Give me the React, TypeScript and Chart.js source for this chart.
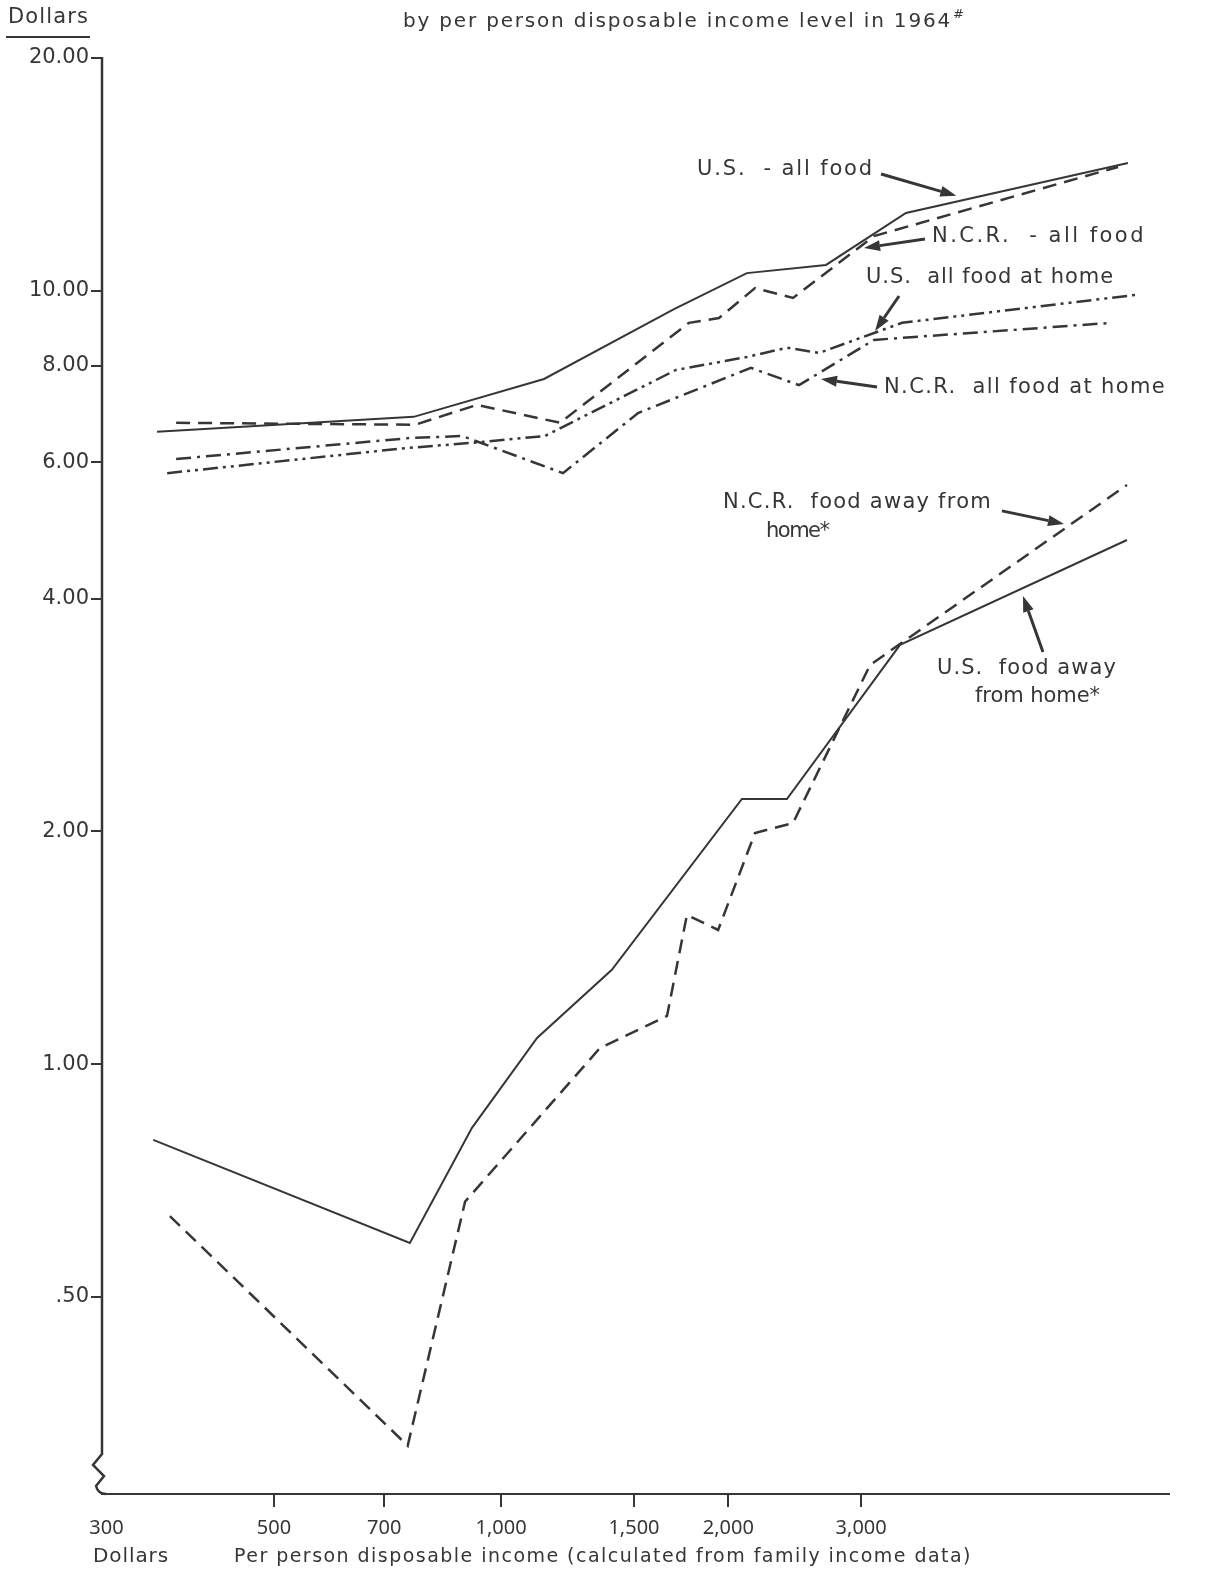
import React, { useEffect, useRef } from "react";
import { Chart, registerables } from "chart.js";

Chart.register(...registerables);

// ---------------- data (per person income in dollars, value in dollars) ----------------
const usAllFoodIncome = [350, 766, 1140, 1695, 2117, 2695, 3440, 6771];
const usAllFood = [6.57, 6.87, 7.69, 9.47, 10.54, 10.8, 12.61, 14.63];

const ncrAllFoodIncome = [371, 769, 929, 1197, 1774, 1944, 2170, 2437, 3120, 6570];
const ncrAllFood = [6.75, 6.71, 7.12, 6.75, 9.09, 9.22, 10.08, 9.79, 11.77, 14.46];

const usHomeIncome = [361, 748, 918, 1143, 1705, 2117, 2392, 2638, 3399, 6938];
const usHome = [5.81, 6.26, 6.36, 6.49, 7.9, 8.21, 8.44, 8.31, 9.09, 9.88];

const ncrHomeIncome = [371, 757, 888, 1208, 1519, 2143, 2482, 3120, 6450];
const ncrHome = [6.06, 6.45, 6.49, 5.81, 6.95, 7.95, 7.55, 8.64, 9.09];

const usAwayIncome = [346, 757, 915, 1116, 1402, 2085, 2392, 3378, 6751];
const usAway = [0.798, 0.587, 0.827, 1.081, 1.324, 2.202, 2.202, 3.484, 4.761];

const ncrAwayIncome = [364, 752, 896, 1352, 1659, 1763, 1939, 2170, 2437, 3083, 6751];
const ncrAway = [0.636, 0.321, 0.664, 1.049, 1.154, 1.559, 1.491, 1.99, 2.05, 3.282, 5.609];

const X_TICKS = [300, 500, 700, 1000, 1500, 2000, 3000];
const X_TICK_LABELS = ["300", "500", "700", "1,000", "1,500", "2,000", "3,000"];
const Y_TICKS = [0.5, 1, 2, 4, 6, 8, 10, 20];
const Y_TICK_LABELS = [".50", "1.00", "2.00", "4.00", "6.00", "8.00", "10.00", "20.00"];

// series labels, anchored in data coordinates (income, dollars)
const LABEL_TEXTS = [
  "U.S.  - all food",
  "N.C.R.  - all food",
  "U.S.  all food at home",
  "N.C.R.  all food at home",
  "N.C.R.  food away from",
  "home*",
  "U.S.  food away",
  "from home*",
];
const LABEL_INCOME = [1818, 3724, 3045, 3217, 1968, 2244, 3781, 4246];
const LABEL_DOLLARS = [14.33, 11.74, 10.39, 7.486, 5.318, 4.877, 3.243, 2.985];

// arrows from label to line, in data coordinates
const ARROW_FROM_INCOME = [3188, 3645, 3368, 3149, 4610, 5225];
const ARROW_FROM_DOLLARS = [14.16, 11.67, 9.846, 7.508, 5.193, 3.412];
const ARROW_TO_INCOME = [4011, 3027, 3130, 2654, 5571, 4916];
const ARROW_TO_DOLLARS = [13.27, 11.36, 8.873, 7.69, 4.995, 4.031];

// ---------------- layout / style ----------------
const W = 1223;
const H = 1579;
const AREA = { left: 102, top: 58, right: 1169, bottom: 1494 };
const X_MIN = 295.9;
const X_MAX = 7675;
const Y_MIN = 0.278;
const Y_MAX = 20;
const INK = "#363636";
const FONT = "'DejaVu Sans', 'Noto Sans', sans-serif";
const TICK_FONT = "'Noto Sans', 'DejaVu Sans', sans-serif";
const LABEL_WIDTHS = [177, 214, 248, 282, 269, 58, 180, 125];

function drawFitted(ctx: CanvasRenderingContext2D, text: string, x: number, y: number, width: number) {
  (ctx as any).letterSpacing = "0px";
  const w0 = ctx.measureText(text).width;
  const n = text.length;
  let sp = n > 1 ? (width - w0) / n : 0;
  sp = Math.max(-1.5, Math.min(5, sp));
  (ctx as any).letterSpacing = `${sp}px`;
  ctx.fillText(text, x, y);
  (ctx as any).letterSpacing = "0px";
}

function drawArrow(ctx: CanvasRenderingContext2D, x1: number, y1: number, x2: number, y2: number) {
  const ang = Math.atan2(y2 - y1, x2 - x1);
  const len = 16;
  const half = 5.5;
  const bx = x2 - len * Math.cos(ang);
  const by = y2 - len * Math.sin(ang);
  ctx.beginPath();
  ctx.moveTo(x1, y1);
  ctx.lineTo(bx, by);
  ctx.lineWidth = 3;
  ctx.stroke();
  ctx.beginPath();
  ctx.moveTo(x2, y2);
  ctx.lineTo(bx + half * Math.sin(ang), by - half * Math.cos(ang));
  ctx.lineTo(bx - half * Math.sin(ang), by + half * Math.cos(ang));
  ctx.closePath();
  ctx.fill();
}

const decorPlugin = {
  id: "decor",
  afterDraw(chart: any) {
    const { ctx, chartArea } = chart;
    const xs = chart.scales.x;
    const ys = chart.scales.y;
    ctx.save();
    ctx.strokeStyle = INK;
    ctx.fillStyle = INK;
    ctx.lineCap = "butt";

    // y axis with break symbol near the bottom
    const L = chartArea.left;
    const B = chartArea.bottom;
    ctx.lineWidth = 2.5;
    ctx.beginPath();
    ctx.moveTo(L, chartArea.top - 1);
    ctx.lineTo(L, B - 40);
    ctx.lineTo(L - 9, B - 29);
    ctx.lineTo(L + 2, B - 18);
    ctx.lineTo(L - 6, B - 8);
    ctx.quadraticCurveTo(L - 4, B, L + 4, B);
    ctx.stroke();

    // series labels
    ctx.font = `21px ${FONT}`;
    ctx.textBaseline = "middle";
    ctx.textAlign = "left";
    LABEL_TEXTS.forEach((t, i) => {
      drawFitted(ctx, t, xs.getPixelForValue(LABEL_INCOME[i]), ys.getPixelForValue(LABEL_DOLLARS[i]), LABEL_WIDTHS[i]);
    });

    // arrows
    ARROW_FROM_INCOME.forEach((_, i) => {
      drawArrow(
        ctx,
        xs.getPixelForValue(ARROW_FROM_INCOME[i]),
        ys.getPixelForValue(ARROW_FROM_DOLLARS[i]),
        xs.getPixelForValue(ARROW_TO_INCOME[i]),
        ys.getPixelForValue(ARROW_TO_DOLLARS[i])
      );
    });

    // title (second line visible at top)
    ctx.font = `20px ${FONT}`;
    drawFitted(ctx, "by per person disposable income level in 1964", 403, 22, 549);
    ctx.font = `13px ${FONT}`;
    ctx.fillText("#", 953, 15);

    // y axis unit label with underline
    ctx.font = `21px ${FONT}`;
    drawFitted(ctx, "Dollars", 8, 18, 81);
    ctx.lineWidth = 2;
    ctx.beginPath();
    ctx.moveTo(6, 37);
    ctx.lineTo(90, 37);
    ctx.stroke();

    // x axis unit + title
    ctx.font = `20px ${FONT}`;
    drawFitted(ctx, "Dollars", 93, 1557, 76);
    ctx.font = `19px ${FONT}`;
    drawFitted(ctx, "Per person disposable income (calculated from family income data)", 234, 1557, 738);

    ctx.restore();
  },
};

function series(label: string, xs: number[], ys: number[], dash: number[], width: number) {
  return {
    label,
    data: xs.map((x, i) => ({ x, y: ys[i] })),
    borderColor: INK,
    backgroundColor: INK,
    borderWidth: width,
    borderDash: dash,
    pointRadius: 0,
    tension: 0,
    fill: false,
    clip: false as any,
  };
}

export default function App() {
  const ref = useRef<HTMLCanvasElement | null>(null);

  useEffect(() => {
    if (!ref.current) return;
    const chart = new Chart(ref.current, {
      type: "line",
      data: {
        datasets: [
          series("U.S. - all food", usAllFoodIncome, usAllFood, [], 2),
          series("N.C.R. - all food", ncrAllFoodIncome, ncrAllFood, [14, 8], 2.5),
          series("U.S. all food at home", usHomeIncome, usHome, [15, 5, 3, 5, 3, 5], 2.5),
          series("N.C.R. all food at home", ncrHomeIncome, ncrHome, [15, 6, 3, 6], 2.5),
          series("U.S. food away from home*", usAwayIncome, usAway, [], 2),
          series("N.C.R. food away from home*", ncrAwayIncome, ncrAway, [14, 8], 2.5),
        ] as any,
      },
      options: {
        responsive: false,
        animation: false,
        devicePixelRatio: 1,
        events: [],
        layout: { padding: { left: 0, top: AREA.top, right: W - AREA.right, bottom: 0 } },
        plugins: {
          legend: { display: false },
          tooltip: { enabled: false },
          title: { display: false },
        },
        scales: {
          x: {
            type: "logarithmic",
            position: "bottom",
            min: X_MIN,
            max: X_MAX,
            bounds: "data",
            afterBuildTicks: (s: any) => {
              s.ticks = X_TICKS.map((value) => ({ value }));
            },
            afterFit: (s: any) => {
              s.height = H - AREA.bottom;
            },
            ticks: {
              autoSkip: false,
              maxRotation: 0,
              minRotation: 0,
              padding: 9,
              color: INK,
              font: { family: TICK_FONT, size: 20 },
              callback: (_v: any, i: number) => X_TICK_LABELS[i],
            },
            grid: {
              drawOnChartArea: false,
              drawTicks: true,
              tickLength: 13,
              lineWidth: 2,
              color: INK,
              tickColor: (c: any) => (c.tick && c.tick.value === 300 ? "rgba(0,0,0,0)" : INK),
            },
            border: { display: true, color: INK, width: 2 },
          },
          y: {
            type: "logarithmic",
            position: "left",
            min: Y_MIN,
            max: Y_MAX,
            bounds: "data",
            afterBuildTicks: (s: any) => {
              s.ticks = Y_TICKS.map((value) => ({ value }));
            },
            afterFit: (s: any) => {
              s.width = AREA.left;
            },
            ticks: {
              autoSkip: false,
              padding: 2,
              color: INK,
              font: { family: FONT, size: 21 },
              callback: (_v: any, i: number) => Y_TICK_LABELS[i],
            },
            grid: {
              drawOnChartArea: false,
              drawTicks: true,
              tickLength: 11,
              lineWidth: 2,
              color: INK,
            },
            border: { display: false },
          },
        },
      } as any,
      plugins: [decorPlugin as any],
    });
    return () => chart.destroy();
  }, []);

  return (
    <div style={{ position: "absolute", left: 0, top: 0, width: W, height: H, background: "#fff" }}>
      <canvas ref={ref} width={W} height={H} style={{ display: "block" }} />
    </div>
  );
}
